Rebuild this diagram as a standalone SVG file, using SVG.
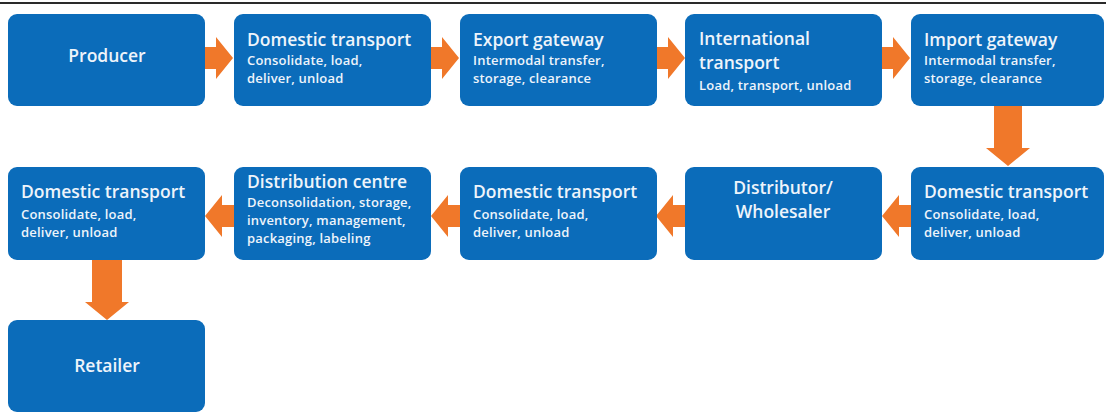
<svg xmlns="http://www.w3.org/2000/svg" width="1106" height="414" viewBox="0 0 1106 414">
  <style>
    .box { fill: #0b6cba; }
    .arrow { fill: #f0782a; }
    .title { font-family: "Open Sans", "Noto Sans", "Liberation Sans", sans-serif; font-weight: 600; font-size: 17.5px; fill: #eef4fb; }
    .sub { font-family: "Open Sans", "Noto Sans", "Liberation Sans", sans-serif; font-weight: 600; font-size: 13px; fill: #eef4fb; letter-spacing: 0.2px; }
    .mid { text-anchor: middle; }
  </style>

  <rect width="1106" height="414" fill="#ffffff"/>
  <!-- top rule -->
  <line x1="0" y1="3" x2="1106" y2="3" stroke="#2a2a2a" stroke-width="2"/>

  <!-- connectors -->
  <g id="connectors">
    <!-- row 1, pointing right -->
    <path class="arrow" d="M205,47 H216 V37 L233,58 L216,79 V69 H205 Z"/>
    <path class="arrow" d="M431,47 H442 V37 L459,58 L442,79 V69 H431 Z"/>
    <path class="arrow" d="M657,47 H668 V37 L685,58 L668,79 V69 H657 Z"/>
    <path class="arrow" d="M882,47 H893 V37 L910,58 L893,79 V69 H882 Z"/>
    <!-- down from import gateway -->
    <path class="arrow" d="M994,106 H1022 V148 H1030 L1008,166 L986,148 H994 Z"/>
    <!-- row 2, pointing left -->
    <path class="arrow" d="M911,205 H899 V195 L882,216 L899,237 V227 H911 Z"/>
    <path class="arrow" d="M685,205 H673 V195 L656,216 L673,237 V227 H685 Z"/>
    <path class="arrow" d="M460,205 H448 V195 L431,216 L448,237 V227 H460 Z"/>
    <path class="arrow" d="M234,205 H222 V195 L205,216 L222,237 V227 H234 Z"/>
    <!-- down to retailer -->
    <path class="arrow" d="M92,260 H122 V302 H129 L107,320 L85,302 H92 Z"/>
  </g>

  <!-- row 1 -->
  <g id="producer">
    <rect class="box" x="8" y="14" width="197" height="92" rx="9"/>
    <text class="title mid" x="107" y="62">Producer</text>
  </g>
  <g id="domestic-transport-1">
    <rect class="box" x="234" y="14" width="197" height="92" rx="9"/>
    <text class="title" x="247" y="46">Domestic transport</text>
    <text class="sub" x="247" y="65">Consolidate, load,</text>
    <text class="sub" x="247" y="83">deliver, unload</text>
  </g>
  <g id="export-gateway">
    <rect class="box" x="460" y="14" width="197" height="92" rx="9"/>
    <text class="title" x="473" y="46">Export gateway</text>
    <text class="sub" x="473" y="65">Intermodal transfer,</text>
    <text class="sub" x="473" y="83">storage, clearance</text>
  </g>
  <g id="international-transport">
    <rect class="box" x="685" y="14" width="197" height="92" rx="9"/>
    <text class="title" x="699" y="45">International</text>
    <text class="title" x="699" y="69">transport</text>
    <text class="sub" x="699" y="90">Load, transport, unload</text>
  </g>
  <g id="import-gateway">
    <rect class="box" x="911" y="14" width="193" height="92" rx="9"/>
    <text class="title" x="924" y="46">Import gateway</text>
    <text class="sub" x="924" y="65">Intermodal transfer,</text>
    <text class="sub" x="924" y="83">storage, clearance</text>
  </g>

  <!-- row 2 -->
  <g id="domestic-transport-2">
    <rect class="box" x="911" y="167" width="193" height="93" rx="9"/>
    <text class="title" x="924" y="198">Domestic transport</text>
    <text class="sub" x="924" y="219">Consolidate, load,</text>
    <text class="sub" x="924" y="237">deliver, unload</text>
  </g>
  <g id="distributor-wholesaler">
    <rect class="box" x="685" y="167" width="197" height="93" rx="9"/>
    <text class="title mid" x="783" y="194">Distributor/</text>
    <text class="title mid" x="783" y="218">Wholesaler</text>
  </g>
  <g id="domestic-transport-3">
    <rect class="box" x="460" y="167" width="197" height="93" rx="9"/>
    <text class="title" x="473" y="198">Domestic transport</text>
    <text class="sub" x="473" y="219">Consolidate, load,</text>
    <text class="sub" x="473" y="237">deliver, unload</text>
  </g>
  <g id="distribution-centre">
    <rect class="box" x="234" y="167" width="197" height="93" rx="9"/>
    <text class="title" x="247" y="188">Distribution centre</text>
    <text class="sub" x="247" y="207">Deconsolidation, storage,</text>
    <text class="sub" x="247" y="225">inventory, management,</text>
    <text class="sub" x="247" y="243">packaging, labeling</text>
  </g>
  <g id="domestic-transport-4">
    <rect class="box" x="8" y="167" width="197" height="93" rx="9"/>
    <text class="title" x="21" y="198">Domestic transport</text>
    <text class="sub" x="21" y="219">Consolidate, load,</text>
    <text class="sub" x="21" y="237">deliver, unload</text>
  </g>

  <!-- row 3 -->
  <g id="retailer">
    <rect class="box" x="8" y="320" width="197" height="92" rx="9"/>
    <text class="title mid" x="107" y="372">Retailer</text>
  </g>
</svg>
